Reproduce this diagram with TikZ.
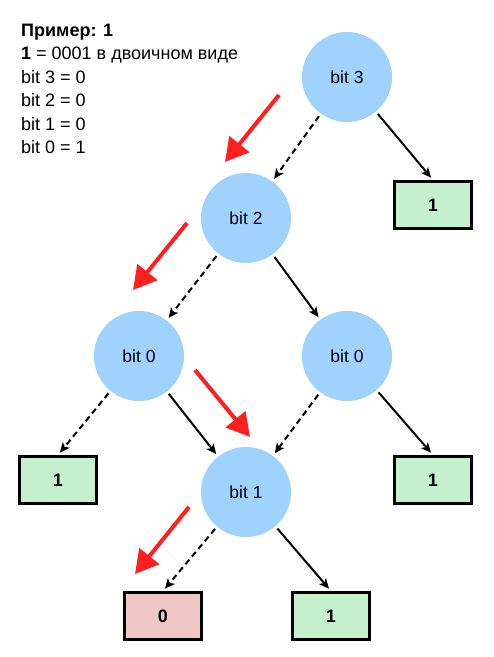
\documentclass[tikz,border=0pt]{standalone}
\usepackage{fontspec}
\setmainfont{Liberation Sans}
\usetikzlibrary{arrows.meta}
\definecolor{bitblue}{HTML}{9FD2FD}
\definecolor{leafgreen}{HTML}{C6EFCE}
\definecolor{leafred}{HTML}{F0C6C6}
\definecolor{pathred}{HTML}{FF1F1F}
\begin{document}
\begin{tikzpicture}[x=1pt,y=-1pt,
  bitnode/.style={circle,fill=bitblue,draw=none,minimum size=90pt,inner sep=0pt,font=\fontsize{17.5}{20}\selectfont},
  leaf/.style={rectangle,draw=black,line width=3pt,minimum width=77pt,minimum height=47pt,inner sep=0pt,font=\bfseries\fontsize{18}{20}\selectfont},
  txt/.style={anchor=base west,inner sep=0pt,font=\fontsize{18}{20}\selectfont},
  edge/.style={line width=2pt,-{Stealth[length=10pt,width=9pt,inset=2.5pt]},shorten <=3pt,shorten >=3pt},
  zero/.style={edge,dash pattern=on 6pt off 4pt},
  path/.style={draw=pathred,line width=4pt,-{Triangle[length=23pt,width=25pt]}}]
\useasboundingbox (0,0) rectangle (494,657);
% text
\node[txt] (t1) at (21,36.7) {\bfseries Пример: 1};
\node[txt] (t2) at (21,59.5) {\textbf{1} = 0001 в двоичном виде};
\node[txt] (t3) at (21,83.3) {bit 3 = 0};
\node[txt] (t4) at (21,106.7) {bit 2 = 0};
\node[txt] (t5) at (21,130) {bit 1 = 0};
\node[txt] (t6) at (21,153.3) {bit 0 = 1};
% nodes
\node[bitnode] (b3) at (347,77) {bit 3};
\node[bitnode] (b2) at (246,218) {bit 2};
\node[bitnode] (b0l) at (139,356) {bit 0};
\node[bitnode] (b0r) at (347,356) {bit 0};
\node[bitnode] (b1) at (246,492) {bit 1};
\node[leaf,fill=leafgreen] (lt) at (433,205) {1};
\node[leaf,fill=leafgreen] (ll) at (58,480) {1};
\node[leaf,fill=leafgreen] (lr) at (433,480) {1};
\node[leaf,fill=leafred] (l0) at (163,616) {0};
\node[leaf,fill=leafgreen] (l1) at (331,616) {1};
% edges
\draw[zero] (b3) -- (b2);
\draw[edge] (b3) -- (lt.north);
\draw[zero] (b2) -- (b0l);
\draw[edge] (b2) -- (b0r);
\draw[zero] (b0l) -- (ll.north);
\draw[edge] (b0l) -- (b1);
\draw[zero] (b0r) -- (b1);
\draw[edge] (b0r) -- (lr.north);
\draw[zero] (b1) -- (l0.north);
\draw[edge] (b1) -- (l1.north);
% red path arrows
\coordinate (r1s) at (279,95);  \coordinate (r1e) at (225,162);
\coordinate (r2s) at (187,223); \coordinate (r2e) at (133,290);
\coordinate (r3s) at (195,370); \coordinate (r3e) at (250,437);
\coordinate (r4s) at (189,507); \coordinate (r4e) at (135,574);
\draw[path] (r1s) -- (r1e);
\draw[path] (r2s) -- (r2e);
\draw[path] (r3s) -- (r3e);
\draw[path] (r4s) -- (r4e);
\end{tikzpicture}
\end{document}
